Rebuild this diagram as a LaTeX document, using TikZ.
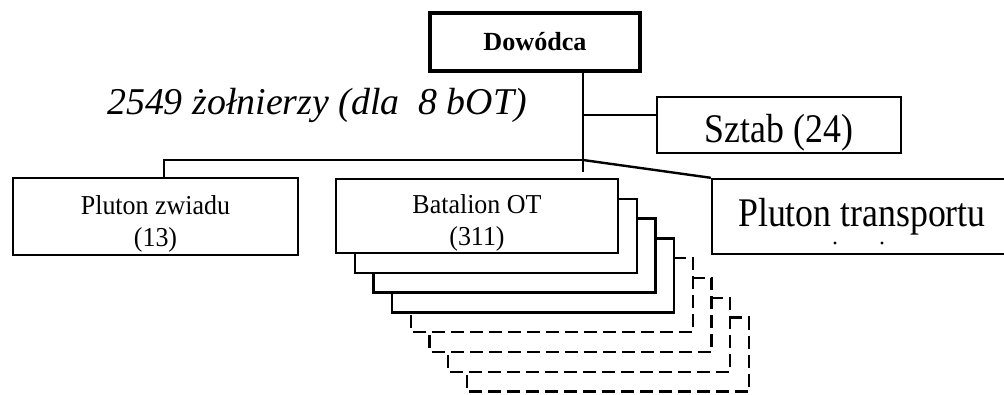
\documentclass[tikz,border=0pt]{standalone}
\usepackage{fontspec}
\setmainfont{Liberation Serif}
\newfontfamily\condfont[FakeStretch=0.88]{Liberation Serif}
\newfontfamily\semicond[FakeStretch=0.95]{Liberation Serif}
\begin{document}
\begin{tikzpicture}[x=0.75pt,y=-0.75pt,line width=1.8pt,
  box/.style={draw,fill=white,line width=1.8pt,inner sep=0pt,align=center},
  lbl/.style={font=\semicond\fontsize{20.5}{24}\selectfont},
  big/.style={font=\condfont\fontsize{30.5}{34}\selectfont},
  dashbox/.style={draw,fill=white,line width=1.8pt,dash pattern=on 9.75pt off 4.5pt},
  solidbox/.style={draw,fill=white,line width=1.8pt}]
\useasboundingbox (0,0) rectangle (1004,395);
% stacked battalion copies (back to front)
\foreach \k in {7,6,5,4}
  \path[dashbox] ({336+18.7*\k},{179+19.8*\k}) rectangle +(282,74);
\foreach \k in {3,2,1}
  \path[solidbox] ({336+18.7*\k},{179+19.8*\k}) rectangle +(282,74);
% nodes
\node[box,line width=2.5pt,minimum width=157.5pt,minimum height=43.5pt,
  font=\fontsize{19.6}{24}\selectfont\bfseries] (dow) at (535,42) {Dowódca};
\node[box,big,minimum width=183pt,minimum height=42pt] (sztab) at (779,125)
  {\rule{0pt}{32pt}Sztab (24)};
\node[inner sep=0pt,font=\fontsize{28.4}{34}\selectfont\itshape] (tot) at (317,105)
  {2549 żołnierzy (dla\ \ 8 bOT)};
\node[box,lbl,minimum width=213.75pt,minimum height=57.75pt] (pz) at (155.5,216.5)
  {\rule{0pt}{25pt}Pluton zwiadu\\(13)};
\node[box,lbl,minimum width=211.5pt,minimum height=55.5pt] (bat) at (477,216)
  {\rule{0pt}{25pt}Batalion OT\\(311)};
\node[box,big,minimum width=225pt,minimum height=56.25pt] (pt) at (862,216.5)
  {Pluton transportu};
\fill (835,243) circle[radius=1.2pt];
\fill (882,243) circle[radius=1.2pt];
% connectors
\coordinate (jS) at (583,115);
\coordinate (jM) at (583,160);
\coordinate (jE) at (583,172);
\coordinate (jL) at (164,160);
\draw (dow.south -| jM) -- (jE);
\draw (jS) -- (jS -| sztab.west);
\draw (jM) -- (jL) -- (jL |- pz.north);
\draw (jM) -- (pt.north west);
\end{tikzpicture}
\end{document}
